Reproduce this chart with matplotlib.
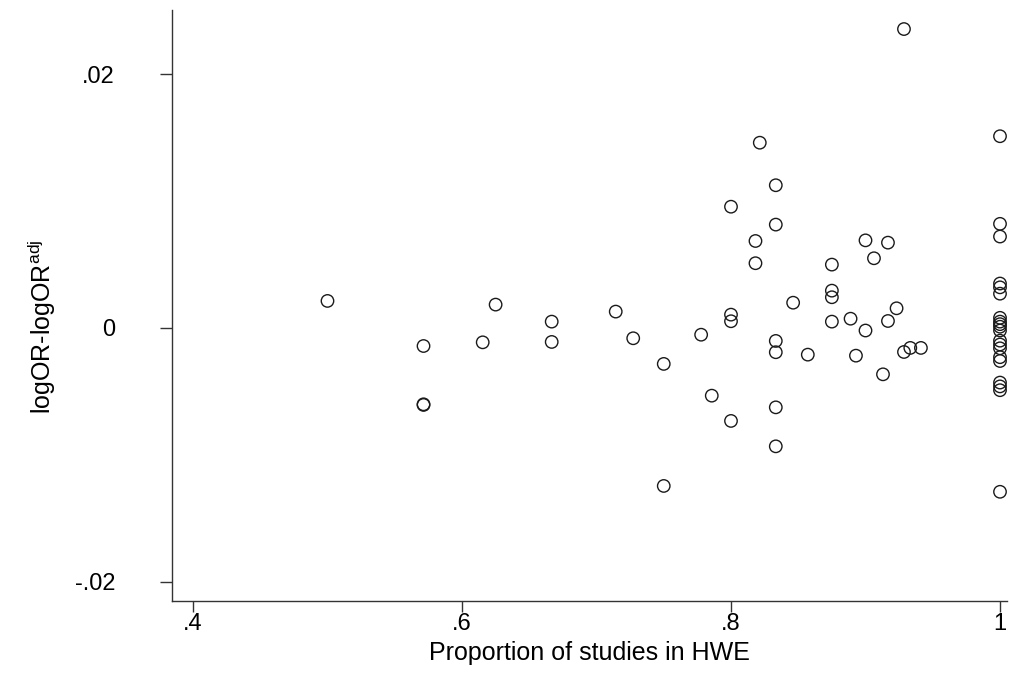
import matplotlib
matplotlib.use("Agg")
import matplotlib.pyplot as plt
from matplotlib.ticker import FixedLocator, FixedFormatter

plt.rcParams['font.family'] = ['Liberation Sans', 'DejaVu Sans']
plt.rcParams['mathtext.fontset'] = 'custom'
plt.rcParams['mathtext.rm'] = 'Liberation Sans'
plt.rcParams['mathtext.it'] = 'Liberation Sans'

# Proportion of studies in HWE (x) and logOR - logOR_adj (y)
prop_hwe = [
    0.5, 0.5714, 0.5714, 0.5714, 0.6154, 0.625, 0.6667, 0.6667, 0.7143, 0.7273,
    0.75, 0.75, 0.7778, 0.7857, 0.8, 0.8, 0.8, 0.8, 0.8182, 0.8182,
    0.8214, 0.8333, 0.8333, 0.8333, 0.8333, 0.8333, 0.8333, 0.8462, 0.8571, 0.875,
    0.875, 0.875, 0.875, 0.8889, 0.8929, 0.9, 0.9, 0.9063, 0.913, 0.9167,
    0.9167, 0.9231, 0.9286, 0.9333, 0.9412, 0.9286,
    1.0, 1.0, 1.0, 1.0, 1.0, 1.0, 1.0, 1.0, 1.0, 1.0,
    1.0, 1.0, 1.0, 1.0, 1.0, 1.0, 1.0, 1.0, 1.0, 1.0,
]
diff_logor = [
    0.00213, -0.00142, -0.00601, -0.00606, -0.00113, 0.00184, 0.0005, -0.0011, 0.00129, -0.00081,
    -0.00283, -0.01244, -0.00053, -0.00533, 0.00955, 0.00105, 0.00053, -0.00732, 0.00685, 0.0051,
    0.01459, 0.01124, 0.00814, -0.00102, -0.00191, -0.00625, -0.00932, 0.00199, -0.0021, 0.00499,
    0.00294, 0.00242, 0.0005, 0.00073, -0.00218, 0.0069, -0.0002, 0.00549, -0.00365, 0.00672,
    0.00055, 0.00155, -0.00189, -0.00157, -0.00157, 0.02354,
    0.0151, 0.0082, 0.0072, 0.0035, 0.0032, 0.0027, 0.0008, 0.0005, 0.0003, 0.0001,
    -0.0002, -0.0010, -0.0013, -0.0016, -0.0023, -0.0026, -0.0043, -0.0046, -0.0049, -0.0129,
]

x_ticks = [0.4, 0.6, 0.8, 1.0]
x_tick_labels = ['.4', '.6', '.8', '1']
y_ticks = [-0.02, 0.0, 0.02]
y_tick_labels = ['-.02', '0', '.02']

fig = plt.figure(figsize=(10.09, 6.74), dpi=100)
ax = fig.add_axes([172 / 1009, 1 - 601 / 674, (1007 - 172) / 1009, (601 - 10) / 674])

ax.scatter(prop_hwe, diff_logor, s=80, facecolors='none', edgecolors='#1a1a1a', linewidths=1.0)

ax.set_xlim(0.3844, 1.0052)
ax.set_ylim(-0.0215, 0.02504)

ax.xaxis.set_major_locator(FixedLocator(x_ticks))
ax.xaxis.set_major_formatter(FixedFormatter(x_tick_labels))
ax.yaxis.set_major_locator(FixedLocator(y_ticks))
ax.yaxis.set_major_formatter(FixedFormatter(y_tick_labels))

for s in ['top', 'right']:
    ax.spines[s].set_visible(False)
for s in ['left', 'bottom']:
    ax.spines[s].set_color('#333333')
    ax.spines[s].set_linewidth(1.0)

ax.tick_params(axis='x', direction='out', length=8, width=1.0, color='#333333', pad=1, labelsize=17)
ax.tick_params(axis='y', direction='out', length=9, width=1.0, color='#333333', pad=32, labelsize=17)

ax.set_xlabel('Proportion of studies in HWE', fontsize=18)
ax.set_ylabel(r'logOR-logOR$^{\mathrm{adj}}$', fontsize=18)
ax.xaxis.set_label_coords(0.5, -0.068)
ax.yaxis.set_label_coords(-0.136, 0.4636)

fig.savefig('out.png', dpi=100)
